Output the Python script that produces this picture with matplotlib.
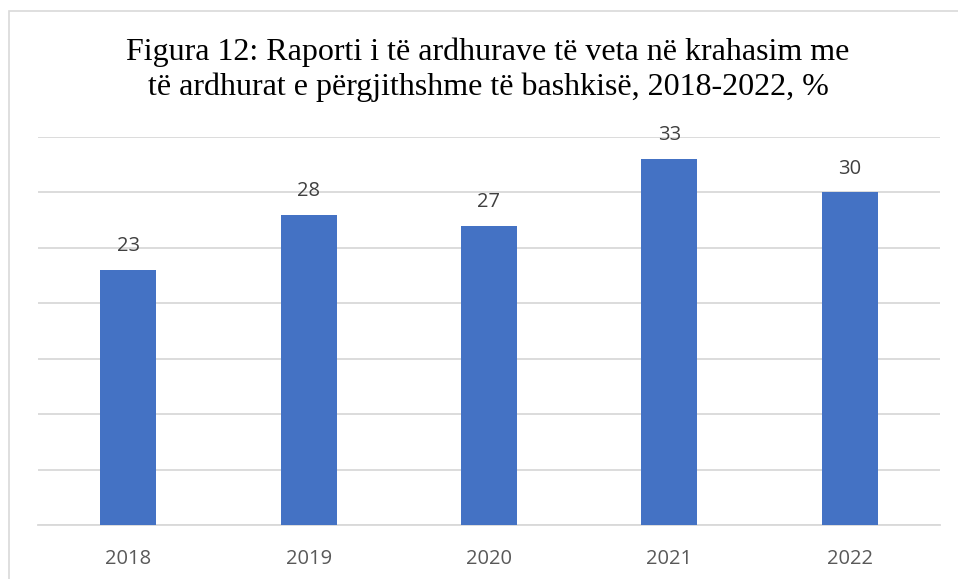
import matplotlib.pyplot as plt
from matplotlib.patches import Rectangle

# te dhenat e grafikut
years = ["2018", "2019", "2020", "2021", "2022"]
shares = [23, 28, 27, 33, 30]
title = ("Figura 12: Raporti i të ardhurave të veta në krahasim me\n"
         "të ardhurat e përgjithshme të bashkisë, 2018-2022, %")

BAR_COLOR = "#4472C4"
GRID_COLOR = "#D9D9D9"

fig = plt.figure(figsize=(9.58, 5.79), dpi=100)
ax = fig.add_axes([38 / 958, 1 - 525 / 579, (940 - 38) / 958, (525 - 137) / 579])

x = range(len(years))
bars = ax.bar(x, shares, width=0.31, color=BAR_COLOR, zorder=3)
ax.bar_label(bars, labels=[str(v) for v in shares], padding=10,
             fontsize=14.5, color="#404040", family="Open Sans")

ax.set_xlim(-0.5, len(years) - 0.5)
ax.set_ylim(0, 35)
ax.set_yticks(range(0, 36, 5))
ax.yaxis.grid(True, color=GRID_COLOR, linewidth=1.3, zorder=0)
ax.set_yticklabels([])
ax.tick_params(axis="y", length=0)

ax.set_xticks(list(x))
ax.set_xticklabels(years, fontsize=14.5, color="#595959", family="Open Sans")
ax.tick_params(axis="x", length=0, pad=17)

for side in ["top", "right", "left"]:
    ax.spines[side].set_visible(False)
ax.spines["bottom"].set_color(GRID_COLOR)
ax.spines["bottom"].set_linewidth(1.3)

fig.text(488 / 958, 1 - 95 / 579, title, ha="center", va="baseline",
         fontsize=23, family="Liberation Serif", color="black",
         linespacing=1.24)

# bordi i grafikut
border = Rectangle((9 / 958, -0.1), 2, (579 - 11) / 579 + 0.1,
                   transform=fig.transFigure, fill=False,
                   edgecolor=GRID_COLOR, linewidth=1.2)
fig.patches.append(border)

fig.savefig("out.png", dpi=100)
